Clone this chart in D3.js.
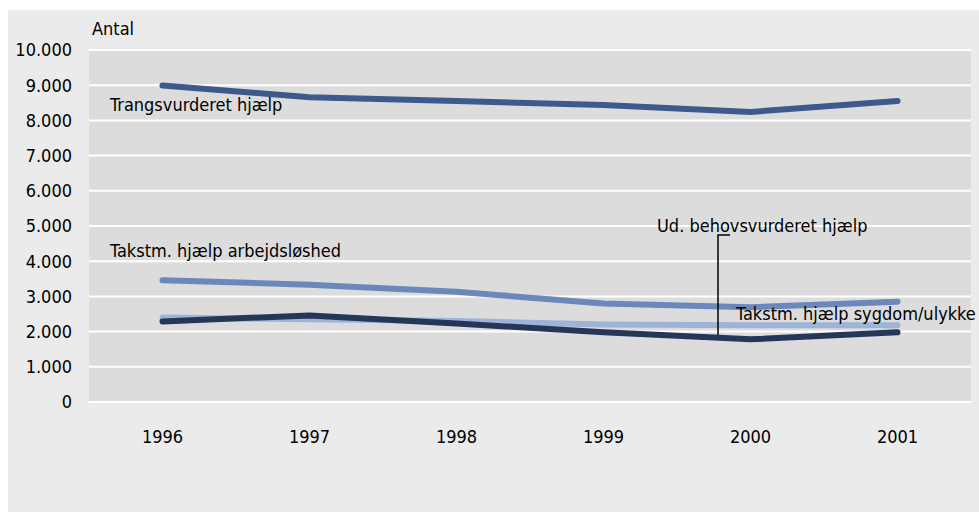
<!DOCTYPE html>
<html>
<head>
<meta charset="utf-8">
<script src="https://cdn.jsdelivr.net/npm/d3@7"></script>
<style>
  body { margin: 0; background: #fff; }
  text { font-family: "Liberation Sans Narrow", "DejaVu Sans Condensed", "Open Sans", sans-serif; fill: #000; }
</style>
</head>
<body>
<svg id="chart"></svg>
<script>
var years = ["1996", "1997", "1998", "1999", "2000", "2001"];
var yTicks = [0, 1000, 2000, 3000, 4000, 5000, 6000, 7000, 8000, 9000, 10000];

var trangsvurderet = [8990, 8660, 8550, 8440, 8240, 8550];
var arbejdsloshed = [3460, 3330, 3130, 2800, 2690, 2850];
var sygdomUlykke = [2400, 2350, 2300, 2200, 2180, 2180];
var behovsvurderet = [2290, 2460, 2230, 1980, 1780, 1980];

var series = [
  { name: "Takstm. hjælp sygdom/ulykke", values: sygdomUlykke, color: "#9db3d8" },
  { name: "Takstm. hjælp arbejdsløshed", values: arbejdsloshed, color: "#6a88bb" },
  { name: "Ud. behovsvurderet hjælp", values: behovsvurderet, color: "#253659" },
  { name: "Trangsvurderet hjælp", values: trangsvurderet, color: "#3d5a8c" }
];

var width = 979, height = 512;
var svg = d3.select("#chart").attr("width", width).attr("height", height);

// outer panel
svg.append("rect").attr("x", 8).attr("y", 10).attr("width", 971).attr("height", 502).attr("fill", "#ebebeb");

var x = d3.scaleBand().domain(years).range([89, 971]);
var y = d3.scaleLinear().domain([0, 10000]).range([402, 50]);

svg.append("rect").attr("x", 89).attr("y", 50).attr("width", 882).attr("height", 352).attr("fill", "#dcdcdc");

// gridlines
svg.selectAll(".grid").data(yTicks).enter().append("line")
  .attr("x1", 89).attr("x2", 971)
  .attr("y1", function(d){ return y(d); })
  .attr("y2", function(d){ return y(d); })
  .attr("stroke", "#fff").attr("stroke-width", 2);

var fmt = function(d){ return d3.format(",")(d).replace(/,/g, "."); };

svg.selectAll(".ytick").data(yTicks).enter().append("text")
  .attr("x", 72).attr("y", function(d){ return y(d); })
  .attr("dy", "0.35em").attr("text-anchor", "end")
  .attr("font-size", 18)
  .text(fmt);

svg.selectAll(".xtick").data(years).enter().append("text")
  .attr("x", function(d){ return x(d) + x.bandwidth()/2; })
  .attr("y", 437).attr("dy", "0.35em").attr("text-anchor", "middle")
  .attr("font-size", 18)
  .text(function(d){ return d; });

svg.append("text").attr("x", 92).attr("y", 29).attr("dy", "0.35em").attr("font-size", 18).text("Antal");

var line = d3.line()
  .x(function(d, i){ return x(years[i]) + x.bandwidth()/2; })
  .y(function(d){ return y(d); });

svg.selectAll(".series").data(series).enter().append("path")
  .attr("d", function(d){ return line(d.values); })
  .attr("fill", "none")
  .attr("stroke", function(d){ return d.color; })
  .attr("stroke-width", 6)
  .attr("stroke-linecap", "round")
  .attr("stroke-linejoin", "round");

// labels
svg.append("text").attr("x", 110).attr("y", 105).attr("dy", "0.35em").attr("font-size", 18).text("Trangsvurderet hjælp");
svg.append("text").attr("x", 110).attr("y", 251).attr("dy", "0.35em").attr("font-size", 18).text("Takstm. hjælp arbejdsløshed");
svg.append("text").attr("x", 657).attr("y", 226).attr("dy", "0.35em").attr("font-size", 18).text("Ud. behovsvurderet hjælp");
svg.append("text").attr("x", 736).attr("y", 314).attr("dy", "0.35em").attr("font-size", 18).text("Takstm. hjælp sygdom/ulykke");

// leader line
svg.append("path")
  .attr("d", "M730,235 H718 V335")
  .attr("fill", "none").attr("stroke", "#000").attr("stroke-width", 1.5);
</script>
</body>
</html>
